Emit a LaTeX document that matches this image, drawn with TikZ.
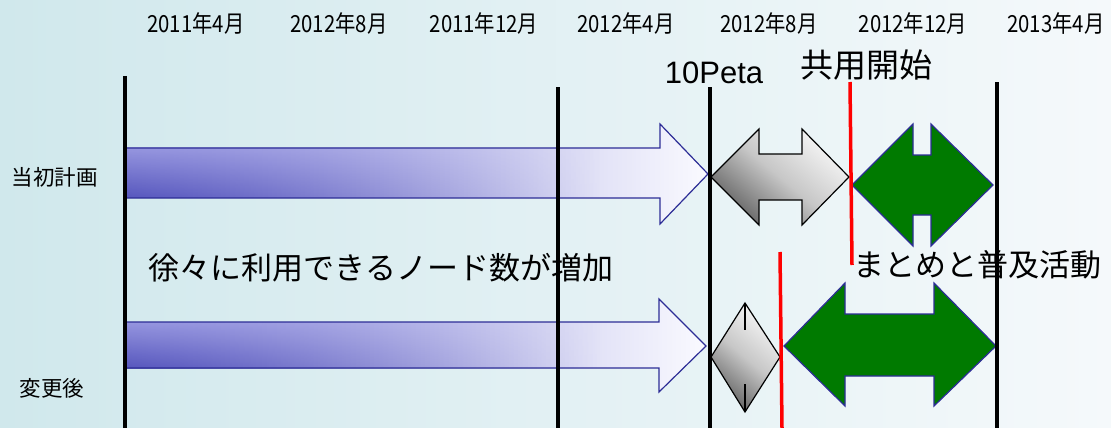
\documentclass[tikz,border=0pt]{standalone}
\usepackage{fontspec}
\setmainfont{Liberation Sans}
\newfontfamily\jp{Noto Sans CJK JP}
\usetikzlibrary{fadings}
\tikzfading[name=fadeR, left color=transparent!0, right color=transparent!100]
\definecolor{bgL}{RGB}{208,232,236}
\definecolor{bgR}{RGB}{245,249,251}
\definecolor{arrL}{RGB}{125,125,212}
\definecolor{arrR}{RGB}{250,250,255}
\definecolor{arrTop}{RGB}{160,160,228}
\definecolor{arrBot}{RGB}{70,70,180}
\definecolor{edgeB}{RGB}{45,45,150}
\definecolor{grn}{RGB}{0,122,0}
\newcommand{\tallbox}[1]{\scalebox{0.97}[1.12]{#1}}
\tikzset{
  vline/.style={line width=4pt, black},
  redline/.style={line width=3.5pt, red},
  datelab/.style={font=\jp\fontsize{21}{21}\selectfont, inner sep=0pt},
  bigjp/.style={font=\jp\fontsize{31}{32}\selectfont, inner sep=0pt},
  rowlab/.style={font=\jp\fontsize{21.5}{22}\selectfont, inner sep=0pt},
  bluearrow/.style={left color=arrL, right color=arrR},
  blueedge/.style={draw=edgeB, line width=1.2pt},
  grayarrow/.style={top color=black!3, bottom color=black!62, middle color=black!22, shading angle=-40},
  greenarrow/.style={fill=grn, draw=edgeB, line width=1.2pt},
}
\begin{document}
\begin{tikzpicture}[x=1pt,y=-1pt]
\useasboundingbox (0,0) rectangle (1111,428);
\shade[left color=bgL, right color=bgR] (0,0) rectangle (1111,428);

% date labels
\node[datelab] (d1) at (196,24) {\tallbox{2011年4月}};
\node[datelab] (d2) at (339,24) {\tallbox{2012年8月}};
\node[datelab] (d3) at (484,24) {\tallbox{2011年12月}};
\node[datelab] (d4) at (626,24) {\tallbox{2012年4月}};
\node[datelab] (d5) at (769,24) {\tallbox{2012年8月}};
\node[datelab] (d6) at (913,24) {\tallbox{2012年12月}};
\node[datelab] (d7) at (1056,24) {\tallbox{2013年4月}};

% row labels
\node[rowlab] (r1) at (55,177) {当初計画};
\node[rowlab] (r2) at (52,388) {変更後};

% other texts
\node[font=\fontsize{31}{32}\selectfont, inner sep=0pt] (peta) at (714,73) {10Peta};
\node[font=\jp\fontsize{33}{34}\selectfont, inner sep=0pt] (kyo) at (866,65) {共用開始};
\node[bigjp] (jojo) at (381,268) {徐々に利用できるノード数が増加};
\node[bigjp] (mato) at (977,265) {まとめと普及活動};

% upper row arrows
\shade[bluearrow] (125,148) -- (660,148) -- (660,124) -- (708,174) -- (660,224) -- (660,198) -- (125,198) -- cycle;
\shade[top color=arrTop, bottom color=arrBot, path fading=fadeR, fill opacity=0.7] (125,148) rectangle (600,198);
\draw[blueedge] (125,148) -- (660,148) -- (660,124) -- (708,174) -- (660,224) -- (660,198) -- (125,198);

\shade[grayarrow] (711,177) -- (759,129) -- (759,154) -- (802,154) -- (802,129) -- (849,177) -- (802,225) -- (802,200) -- (759,200) -- (759,225) -- cycle;
\draw[black, line width=1.2pt] (711,177) -- (759,129) -- (759,154) -- (802,154) -- (802,129) -- (849,177) -- (802,225) -- (802,200) -- (759,200) -- (759,225) -- cycle;

\path[greenarrow] (852,185) -- (913,124) -- (913,155) -- (931,155) -- (931,124) -- (993,185) -- (931,246) -- (931,215) -- (913,215) -- (913,246) -- cycle;

% lower row arrows
\shade[bluearrow] (125,322) -- (659,322) -- (659,299) -- (706,346) -- (659,392) -- (659,368) -- (125,368) -- cycle;
\shade[top color=arrTop, bottom color=arrBot, path fading=fadeR, fill opacity=0.7] (125,322) rectangle (600,368);
\draw[blueedge] (125,322) -- (659,322) -- (659,299) -- (706,346) -- (659,392) -- (659,368) -- (125,368);

\shade[grayarrow] (711,357) -- (745,303) -- (780,357) -- (745,412) -- cycle;
\draw[black, line width=1.2pt] (711,357) -- (745,303) -- (780,357) -- (745,412) -- cycle;
\draw[black, line width=1.5pt] (745,303) -- (745,330) (745,384) -- (745,412);

\path[greenarrow] (784,346) -- (845,283) -- (845,314) -- (934,314) -- (934,283) -- (996,346) -- (934,406) -- (934,376) -- (845,376) -- (845,406) -- cycle;

% vertical black lines
\coordinate (a1) at (125,76);  \coordinate (a2) at (125,428);
\coordinate (b1) at (558,87);  \coordinate (b2) at (558,428);
\coordinate (c1) at (710,87);  \coordinate (c2) at (710,428);
\coordinate (e1) at (997,82);  \coordinate (e2) at (997,428);
\draw[vline] (a1) -- (a2);
\draw[vline] (b1) -- (b2);
\draw[vline] (c1) -- (c2);
\draw[vline] (e1) -- (e2);

% red lines
\coordinate (k1) at (850,82);  \coordinate (k2) at (852,265);
\coordinate (m1) at (780,252); \coordinate (m2) at (782,428);
\draw[redline] (k1) -- (k2);
\draw[redline] (m1) -- (m2);
\end{tikzpicture}
\end{document}
